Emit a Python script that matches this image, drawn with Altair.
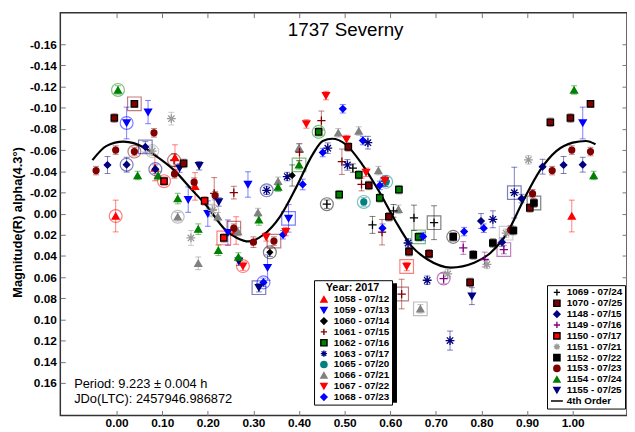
import altair as alt
import pandas as pd

FONT = "Liberation Sans"
PLUS = "M-1,0H1M0,-1V1"
STAR = "M-1,0H1M0,-1V1M-0.72,-0.72L0.72,0.72M-0.72,0.72L0.72,-0.72"
LINE = "M-1.9,0H1.9"

# ---- sessions ----
ser_codes = ["1058", "1059", "1060", "1061", "1062", "1063", "1065", "1066", "1067", "1068",
             "1069", "1070", "1148", "1149", "1150", "1151", "1152", "1153", "1154", "1155"]
ser_dates = ["07/12", "07/13", "07/14", "07/15", "07/16", "07/17", "07/20", "07/21", "07/22", "07/23",
             "07/24", "07/25", "07/15", "07/16", "07/17", "07/21", "07/22", "07/23", "07/24", "07/25"]
ser_group = ["A"] * 10 + ["B"] * 10
ser_colors = ["#FF0000", "#0000FF", "#000000", "#800000", "#008000", "#000080", "#008080", "#808080", "#FF0000", "#0000FF",
              "#000000", "#800000", "#000080", "#800080", "#FF0000", "#9A9A9A", "#000000", "#800000", "#008000", "#000080"]
ser_shapes = ["triangle-up", "triangle-down", "diamond", "plus", "square", "star", "circle", "triangle-up", "triangle-down", "diamond",
              "plus", "square", "diamond", "plus", "square", "star", "square", "circle", "triangle-up", "triangle-down"]

# ---- data points: session, phase, magnitude, error, ring ----
pt_code = ["1153", "1148", "1070", "1153", "1058", "1154", "1059", "1148", "1070", "1153",
           "1154", "1148", "1059", "1151", "1153", "1148", "1154", "1058", "1150", "1151",
           "1061", "1058", "1153", "1155", "1070", "1154", "1066", "1059", "1151", "1153",
           "1058", "1154", "1066", "1155", "1150", "1059", "1151", "1061", "1153", "1066",
           "1155", "1154", "1150", "1059", "1061", "1153", "1058", "1066", "1155", "1154",
           "1067", "1059", "1153", "1063", "1154", "1066", "1068", "1069", "1066", "1154",
           "1067", "1153", "1060", "1059", "1068", "1155", "1068", "1067", "1059", "1063",
           "1060", "1154", "1066", "1061", "1067", "1062", "1061", "1068", "1063", "1067",
           "1062", "1066", "1068", "1061", "1067", "1070", "1063", "1069", "1066", "1068",
           "1063", "1062", "1061", "1067", "1070", "1065", "1066", "1068", "1063", "1065",
           "1067", "1062", "1062", "1069", "1061", "1068", "1070", "1069", "1066", "1069",
           "1069", "1063", "1062", "1068", "1070", "1070", "1067", "1063", "1061", "1066",
           "1063", "1149", "1151", "1152", "1068", "1149", "1070", "1152", "1148", "1068",
           "1149", "1151", "1063", "1152", "1148", "1149", "1151", "1153", "1152", "1063",
           "1148", "1070", "1152", "1153", "1151", "1148", "1070", "1153", "1148", "1070",
           "1153", "1058", "1154", "1059", "1148", "1070", "1153", "1154", "1155"]
pt_phase = [-0.045, -0.020, -0.005, -0.002, -0.002, 0.003, 0.022, 0.022, 0.039, 0.039,
            0.046, 0.063, 0.069, 0.078, 0.082, 0.085, 0.091, 0.084, 0.104, 0.120,
            0.126, 0.128, 0.127, 0.138, 0.147, 0.134, 0.134, 0.157, 0.163, 0.170,
            0.172, 0.179, 0.179, 0.181, 0.193, 0.200, 0.210, 0.214, 0.216, 0.222,
            0.224, 0.223, 0.235, 0.244, 0.257, 0.257, 0.262, 0.266, 0.268, 0.267,
            0.277, 0.288, 0.300, 0.329, 0.354, 0.354, 0.408, 0.461, 0.310, 0.312,
            0.328, 0.345, 0.336, 0.331, 0.322, 0.312, 0.365, 0.371, 0.377, 0.374,
            0.385, 0.400, 0.400, 0.401, 0.416, 0.443, 0.449, 0.452, 0.463, 0.459,
            0.488, 0.486, 0.496, 0.494, 0.504, 0.508, 0.506, 0.518, 0.531, 0.540,
            0.551, 0.531, 0.537, 0.547, 0.553, 0.542, 0.574, 0.577, 0.589, 0.591,
            0.588, 0.577, 0.619, 0.561, 0.582, 0.583, 0.597, 0.607, 0.618, 0.652,
            0.696, 0.639, 0.662, 0.672, 0.641, 0.685, 0.636, 0.681, 0.625, 0.666,
            0.731, 0.717, 0.726, 0.738, 0.762, 0.760, 0.775, 0.782, 0.799, 0.805,
            0.807, 0.812, 0.825, 0.825, 0.845, 0.849, 0.854, 0.864, 0.870, 0.872,
            0.888, 0.906, 0.915, 0.912, 0.903, 0.934, 0.951, 0.955, 0.980, 0.995,
            0.998, 0.998, 1.003, 1.022, 1.022, 1.039, 1.039, 1.046, 0.779]
pt_mag = [-0.0406, -0.0459, -0.0903, -0.0600, 0.0023, -0.1168, -0.0856, -0.0462, -0.1037, -0.0586,
          -0.0360, -0.0630, -0.0959, -0.0590, -0.0763, -0.0420, -0.0360, -0.0430, -0.0306, -0.0897,
          -0.0505, -0.0530, -0.0375, -0.0430, -0.0474, -0.0142, 0.0030, -0.0132, 0.0230, -0.0297,
          -0.0257, 0.0147, 0.0470, -0.0452, -0.0120, 0.0000, -0.0030, -0.0190, -0.0170, 0.0030,
          -0.0110, 0.0347, 0.0230, 0.0180, -0.0198, 0.0138, 0.0160, 0.0170, 0.0450, 0.0410,
          0.0496, -0.0275, 0.0270, -0.0220, -0.0250, -0.0305, -0.0275, -0.0089, -0.0010, 0.0060,
          0.0220, 0.0260, 0.0366, 0.0510, 0.0650, 0.0700, 0.0200, 0.0170, 0.0045, -0.0350,
          -0.0360, -0.0460, -0.0620, -0.0580, -0.0847, -0.0772, -0.0879, -0.0577, -0.0618, -0.1115,
          -0.0179, -0.0763, -0.0990, -0.0490, -0.0700, -0.0630, -0.0460, -0.0430, -0.0780, -0.0690,
          -0.0670, -0.0366, -0.0275, -0.0390, -0.0266, -0.0110, -0.0406, -0.0266, -0.0306, -0.0300,
          -0.0310, -0.0148, -0.0226, 0.0107, 0.0176, 0.0138, 0.0030, -0.0026, -0.0040, 0.0040,
          0.0086, 0.0278, 0.0220, 0.0216, 0.0360, 0.0380, 0.0500, 0.0630, 0.0760, 0.0900,
          0.1200, 0.0614, 0.0570, 0.0220, 0.0170, 0.0325, 0.0650, 0.0390, 0.0070, 0.0138,
          0.0434, 0.0480, 0.0054, 0.0278, 0.0270, 0.0340, 0.0185, 0.0154, 0.0160, -0.0198,
          -0.0142, -0.0054, -0.0100, -0.0188, -0.0508, -0.0443, -0.0863, -0.0406, -0.0459, -0.0903,
          -0.0600, 0.0023, -0.1168, -0.0856, -0.0462, -0.1037, -0.0586, -0.0360, 0.0780]
pt_err = [0.004, 0.008, 0.004, 0.004, 0.015, 0.004, 0.015, 0.007, 0.003, 0.004,
          0.004, 0.005, 0.011, 0.004, 0.004, 0.004, 0.004, 0.012, 0.004, 0.006,
          0.006, 0.012, 0.004, 0.004, 0.004, 0.005, 0.004, 0.012, 0.007, 0.004,
          0.013, 0.005, 0.006, 0.004, 0.004, 0.012, 0.005, 0.015, 0.004, 0.004,
          0.004, 0.005, 0.004, 0.012, 0.006, 0.004, 0.013, 0.004, 0.004, 0.004,
          0.004, 0.012, 0.005, 0.004, 0.004, 0.004, 0.005, 0.004, 0.004, 0.005,
          0.004, 0.004, 0.004, 0.012, 0.004, 0.004, 0.004, 0.004, 0.013, 0.004,
          0.010, 0.004, 0.004, 0.008, 0.004, 0.004, 0.009, 0.004, 0.005, 0.004,
          0.004, 0.004, 0.004, 0.012, 0.004, 0.004, 0.005, 0.004, 0.004, 0.004,
          0.006, 0.004, 0.006, 0.004, 0.004, 0.004, 0.004, 0.004, 0.005, 0.004,
          0.004, 0.004, 0.004, 0.008, 0.012, 0.004, 0.004, 0.006, 0.004, 0.012,
          0.016, 0.004, 0.004, 0.004, 0.004, 0.004, 0.004, 0.004, 0.014, 0.004,
          0.009, 0.005, 0.004, 0.004, 0.004, 0.006, 0.004, 0.004, 0.007, 0.004,
          0.007, 0.004, 0.008, 0.004, 0.004, 0.004, 0.004, 0.004, 0.004, 0.024,
          0.004, 0.004, 0.004, 0.004, 0.004, 0.007, 0.004, 0.004, 0.008, 0.004,
          0.004, 0.015, 0.004, 0.015, 0.007, 0.003, 0.004, 0.004, 0.008]
pt_ring = ["", "", "", "", "o", "o", "o", "o", "s", "o",
           "", "s", "", "o", "", "o", "", "", "o", "",
           "o", "", "", "", "", "", "o", "", "", "",
           "", "", "", "", "", "", "o", "", "", "",
           "", "", "s", "", "", "s", "", "", "", "",
           "o", "", "", "o", "", "", "", "o", "", "",
           "", "s", "o", "", "o", "s", "", "", "s", "",
           "", "s", "", "", "", "o", "", "", "", "",
           "", "", "", "", "", "", "", "", "", "",
           "", "", "", "", "", "o", "", "", "", "o",
           "", "", "", "", "", "", "", "", "", "",
           "s", "", "s", "", "", "", "s", "", "s", "s",
           "", "o", "", "o", "", "", "", "", "", "",
           "", "", "", "", "", "s", "s", "", "", "s",
           "", "", "s", "", "", "", "", "", "", "",
           "", "", "", "", "", "", "", "", ""]

# ---- 4th order fit curve ----
curve_phase = [-0.053, -0.022, 0.015, 0.062, 0.091, 0.127, 0.163, 0.199, 0.235, 0.264, 0.290,
               0.322, 0.358, 0.394, 0.430, 0.452, 0.473, 0.502, 0.538, 0.574, 0.610, 0.647,
               0.682, 0.733, 0.784, 0.820, 0.856, 0.892, 0.928, 0.964, 1.000, 1.029, 1.050]
curve_mag = [-0.0505, -0.0640, -0.0680, -0.0620, -0.0530, -0.0406, -0.0235, -0.0064, 0.0138, 0.0230, 0.0263,
             0.0200, 0.0030, -0.0250, -0.0560, -0.0686, -0.0707, -0.0655, -0.0468, -0.0220, 0.0060, 0.0310,
             0.0434, 0.0510, 0.0465, 0.0370, 0.0185, -0.0126, -0.0406, -0.0590, -0.0670, -0.0686, -0.0655]

x_ticks = [0.0, 0.1, 0.2, 0.3, 0.4, 0.5, 0.6, 0.7, 0.8, 0.9, 1.0]
y_ticks = [-0.16, -0.14, -0.12, -0.10, -0.08, -0.06, -0.04, -0.02, 0.0,
           0.02, 0.04, 0.06, 0.08, 0.10, 0.12, 0.14, 0.16]

title_text = "1737 Severny"
period_text = "Period: 9.223 ± 0.004 h"
jd_text = "JDo(LTC): 2457946.986872"
y_title = "Magnitude(R) alpha(4.3°)"
fit_label = "4th Order"

# ---- build tables ----
shape_path = {"plus": PLUS, "star": STAR}
size_of = {"triangle-up": 50, "triangle-down": 50, "diamond": 42, "plus": 70, "star": 80,
           "square": 42, "circle": 36}
info = {}
for c, d, g, col, sh in zip(ser_codes, ser_dates, ser_group, ser_colors, ser_shapes):
    info[c] = dict(label=f"{c} - {d}", grp=g, col=col,
                   shape=shape_path.get(sh, sh),
                   fill="transparent" if sh in ("plus", "star") else col,
                   stroke="#000000" if sh == "square" else col,
                   sz=size_of[sh] if c != "1060" else 30)

rows = []
for c, p, m, e, r in zip(pt_code, pt_phase, pt_mag, pt_err, pt_ring):
    s = info[c]
    rows.append(dict(code=c, label=s["label"], grp=s["grp"], col=s["col"], sz=s["sz"],
                     phase=p, mag=m, lo=m - e, hi=m + e, ring=r))
df = pd.DataFrame(rows)
curve_df = pd.DataFrame({"phase": curve_phase, "mag": curve_mag})

XDOM = [-0.12338, 1.11905]
YDOM = [-0.18983, 0.19076]
xs = alt.Scale(domain=XDOM, nice=False, zero=False)
ys = alt.Scale(domain=YDOM, nice=False, zero=False, reverse=True)

ylab = "datum.value < -0.0001 ? '-' + format(-datum.value, '.2f') : format(abs(datum.value), '.2f')"

axis_common = dict(tickSize=5, offset=-5, domain=False, grid=False, tickColor="#777777",
                   tickWidth=1, labelFont=FONT, labelFontSize=12, labelFontWeight="bold",
                   labelColor="#000000")
bottom_axis = alt.Axis(orient="bottom", values=x_ticks, format=".2f", labelPadding=2,
                       title=None, **axis_common)
left_axis = alt.Axis(orient="left", values=y_ticks, labelExpr=ylab, labelPadding=4,
                     title=y_title, titleFont=FONT, titleFontSize=13, titleFontWeight="bold",
                     titleColor="#000000", titleAngle=270, titleX=-48, titleY=212,
                     titleBaseline="middle", titleAlign="center", **axis_common)
top_axis = alt.Axis(orient="top", values=x_ticks, labels=False, title=None, **axis_common)
right_axis = alt.Axis(orient="right", values=y_ticks, labels=False, title=None, **axis_common)

base = alt.Chart(df)

err_rule = base.mark_rule(strokeWidth=1, opacity=0.5).encode(
    x=alt.X("phase:Q", scale=xs, axis=bottom_axis),
    y=alt.Y("lo:Q", scale=ys, axis=left_axis),
    y2="hi:Q",
    color=alt.Color("col:N", scale=None),
)
cap_lo = base.mark_tick(orient="horizontal", size=6, thickness=1, opacity=0.5).encode(
    x=alt.X("phase:Q", scale=xs, axis=None),
    y=alt.Y("lo:Q", scale=ys, axis=None),
    color=alt.Color("col:N", scale=None),
)
cap_hi = base.mark_tick(orient="horizontal", size=6, thickness=1, opacity=0.5).encode(
    x=alt.X("phase:Q", scale=xs, axis=None),
    y=alt.Y("hi:Q", scale=ys, axis=None),
    color=alt.Color("col:N", scale=None),
)
ring_o = base.transform_filter(alt.datum.ring == "o").mark_point(
    shape="circle", size=170, filled=False, strokeWidth=1.2, opacity=0.5).encode(
    x=alt.X("phase:Q", scale=xs, axis=None),
    y=alt.Y("mag:Q", scale=ys, axis=None),
    stroke=alt.Stroke("col:N", scale=None),
)
ring_s = base.transform_filter(alt.datum.ring == "s").mark_point(
    shape="square", size=190, filled=False, strokeWidth=1.2, opacity=0.5).encode(
    x=alt.X("phase:Q", scale=xs, axis=None),
    y=alt.Y("mag:Q", scale=ys, axis=None),
    stroke=alt.Stroke("col:N", scale=None),
)

curve = alt.Chart(curve_df).mark_line(color="#000000", strokeWidth=2.2, interpolate="monotone").encode(
    x=alt.X("phase:Q", scale=xs, axis=top_axis),
    y=alt.Y("mag:Q", scale=ys, axis=right_axis),
)


def legend_for(title, lx, ly):
    kw = dict(orient="none", legendX=lx, legendY=ly, padding=2, rowPadding=0, clipHeight=10.7,
              symbolSize=40, symbolStrokeWidth=1.4, symbolOffset=3, labelFont=FONT, labelFontSize=10,
              labelFontWeight="bold", labelColor="#000000", labelOffset=5,
              strokeColor="#000000", fillColor="#FFFFFF")
    if title is None:
        return alt.Legend(title=None, **kw)
    return alt.Legend(title=title, titleFont=FONT, titleFontSize=11, titleFontWeight="bold",
                      titleColor="#000000", titleAnchor="middle", titlePadding=1, **kw)


def points_layer(group, extra_label=None):
    codes = [c for c in ser_codes if info[c]["grp"] == group]
    labels = [info[c]["label"] for c in codes]
    shapes = [info[c]["shape"] for c in codes]
    fills = [info[c]["fill"] for c in codes]
    strokes = [info[c]["stroke"] for c in codes]
    if extra_label:
        labels.append(extra_label)
        shapes.append(LINE)
        fills.append("transparent")
        strokes.append("#000000")
    if group == "A":
        leg = legend_for("Year: 2017", 257, 271)
    else:
        leg = legend_for(None, 493, 276)
    return base.transform_filter(alt.datum.grp == group).mark_point(
        opacity=1, fillOpacity=1, strokeWidth=1.3).encode(
        x=alt.X("phase:Q", scale=xs, axis=None),
        y=alt.Y("mag:Q", scale=ys, axis=None),
        size=alt.Size("sz:Q", scale=None),
        shape=alt.Shape("label:N", scale=alt.Scale(domain=labels, range=shapes), legend=leg),
        fill=alt.Fill("label:N", scale=alt.Scale(domain=labels, range=fills), legend=leg),
        stroke=alt.Stroke("label:N", scale=alt.Scale(domain=labels, range=strokes), legend=leg),
    )


pts_a = points_layer("A")
pts_b = points_layer("B", fit_label)

one = alt.Data(values=[{"k": 1}])
shadow_a = alt.Chart(one).mark_rect(color="#000000").encode(
    x=alt.value(259), x2=alt.value(341), y=alt.value(274), y2=alt.value(395))
shadow_b = alt.Chart(one).mark_rect(color="#000000").encode(
    x=alt.value(495), x2=alt.value(572), y=alt.value(278), y2=alt.value(401))

title_mark = alt.Chart(one).mark_text(text=title_text, font=FONT, fontSize=19, color="#000000",
                                      align="center", baseline="middle").encode(
    x=alt.value(289), y=alt.value(18))
period_mark = alt.Chart(one).mark_text(text=period_text, font=FONT, fontSize=13, color="#000000",
                                       align="left", baseline="middle").encode(
    x=alt.value(14), y=alt.value(376))
jd_mark = alt.Chart(one).mark_text(text=jd_text, font=FONT, fontSize=13, color="#000000",
                                   align="left", baseline="middle").encode(
    x=alt.value(14), y=alt.value(391))

chart = alt.layer(
    err_rule, cap_lo, cap_hi, ring_o, ring_s, curve, pts_a, pts_b,
    shadow_a, shadow_b, title_mark, period_mark, jd_mark,
).resolve_scale(
    shape="independent", fill="independent", stroke="independent"
).resolve_axis(
    x="independent", y="independent"
).properties(
    width=574, height=408,
    autosize=alt.AutoSizeParams(type="none"),
    padding={"left": 53, "top": 2, "right": 0, "bottom": 14},
    background="#FFFFFF",
).configure_view(stroke="#333333", strokeWidth=1.5)

chart.save("out.html", embed_options={"renderer": "svg", "actions": False})
